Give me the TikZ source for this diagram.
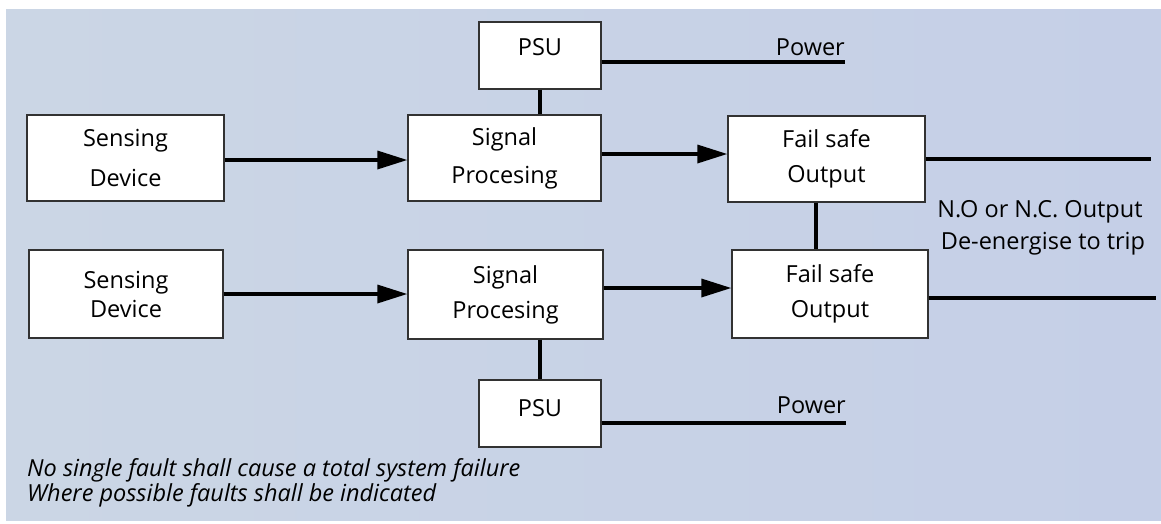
\documentclass[tikz,border=0pt]{standalone}
\usepackage{fontspec}
\setmainfont{Open Sans}
\usetikzlibrary{arrows.meta,calc}
\definecolor{bgA}{RGB}{203,214,229}
\definecolor{bgB}{RGB}{197,207,231}
\definecolor{edgecol}{RGB}{50,50,50}
\newcommand\boxfont{\fontsize{23.5}{35}\selectfont}
\newcommand\italfont{\fontsize{23.5}{24}\selectfont\itshape}
\begin{document}
\begin{tikzpicture}[x=1pt,y=-1pt,
  box/.style={draw=edgecol, line width=1.3pt, fill=white, inner sep=0pt, align=center, font=\boxfont},
  wire/.style={line width=3.4pt, draw=black},
  arr/.style={wire, -{Triangle[length=30pt,width=18pt]}},
  lbl/.style={font=\boxfont, inner sep=0pt, text=black},
  ital/.style={font=\italfont, inner sep=0pt, text=black}]
\useasboundingbox (0,0) rectangle (1161,523);
\fill[white] (0,0) rectangle (1161,523);
\shade[left color=bgA, right color=bgB] (6,9) rectangle (1161,520);

% boxes
\node[box, minimum width=122pt, minimum height=67pt,
      label={[name=psuTt, lbl, yshift=8.5pt]center:PSU}] (psuT) at (540,55.5) {};
\node[box, minimum width=197pt, minimum height=86pt] (senT) at (125.5,158) {Sensing\\[5pt]Device};
\node[box, minimum width=193pt, minimum height=86pt] (sigT) at (504.5,158) {Signal\\[3pt]Procesing};
\node[box, minimum width=197pt, minimum height=86pt] (fsT) at (826.5,159) {Fail safe\\Output};
\node[box, minimum width=194pt, minimum height=88pt] (senB) at (126,294) {Sensing\\[-6pt]Device};
\node[box, minimum width=195pt, minimum height=89pt] (sigB) at (505.5,294.5) {Signal\\Procesing};
\node[box, minimum width=196pt, minimum height=88pt] (fsB) at (830,294) {Fail safe\\Output};
\node[box, minimum width=122pt, minimum height=67pt,
      label={[name=psuBt, lbl, yshift=5.5pt]center:PSU}] (psuB) at (540,413.5) {};

% free ends
\coordinate (pwTend) at (845,62);
\coordinate (pwBend) at (846,423);
\coordinate (outTend) at (1151,159);
\coordinate (outBend) at (1156,298);

% connectors
\draw[arr] ([yshift=-2pt]senT.east) -- ([yshift=-2pt]senT.east -| sigT.west);
\draw[arr] ([yshift=4pt]sigT.east) -- ([yshift=4pt]sigT.east -| fsT.west);
\draw[wire] (psuT.south) -- (psuT.south |- sigT.north);
\draw[wire] (psuT.east |- pwTend) -- (pwTend);
\draw[wire] (fsT.east |- outTend) -- (outTend);
\draw[wire] ([xshift=-10.5pt]fsT.south) -- ([xshift=-10.5pt]fsT.south |- fsB.north);
\draw[arr] (senB.east) -- (senB.east -| sigB.west);
\draw[arr] ([yshift=6.5pt]sigB.east) -- ([yshift=6.5pt]sigB.east -| fsB.west);
\draw[wire] (sigB.south -| psuB.north) -- (psuB.north);
\draw[wire] (psuB.east |- pwBend) -- (pwBend);
\draw[wire] (fsB.east |- outBend) -- (outBend);

% labels
\node[lbl, anchor=base east] (powT) at (845,55) {Power};
\node[lbl, anchor=base east] (powB) at (846,413) {Power};
\node[lbl, anchor=base] (no1) at (1040,217) {N.O or N.C. Output};
\node[lbl, anchor=base] (no2) at (1043,249) {De-energise to trip};
\node[ital, anchor=base west] (n1) at (27,476) {No single fault shall cause a total system failure};
\node[ital, anchor=base west] (n2) at (27,501.5) {Where possible faults shall be indicated};
\end{tikzpicture}
\end{document}
